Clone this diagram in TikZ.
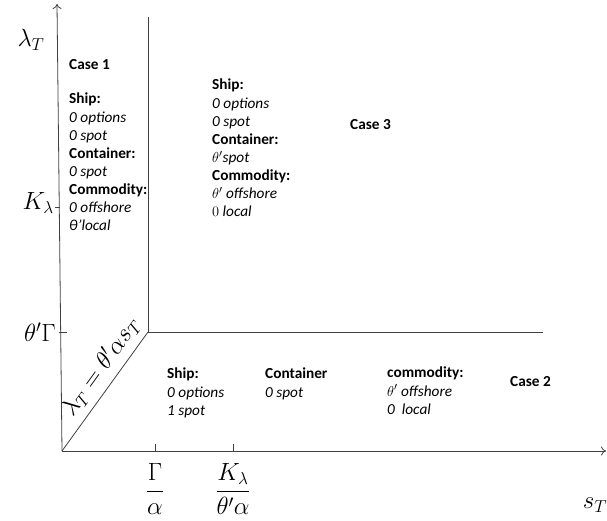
\documentclass[tikz,border=0pt]{standalone}
\usepackage{fontspec}
\setmainfont{Carlito}
\usetikzlibrary{arrows.meta}
\begin{document}
\begin{tikzpicture}[x=1pt,y=-1pt,
  axis/.style={draw=black!75, line width=0.8pt},
  tick/.style={draw=black!75, line width=0.8pt},
  blk/.style={anchor=north west, inner sep=0pt, align=left, font=\fontsize{15.3}{18.1}\selectfont},
  cs/.style={anchor=west, inner sep=0pt, font=\fontsize{15.3}{18.1}\selectfont\bfseries},
  mlab/.style={inner sep=0pt, font=\fontsize{24}{28}\selectfont}]
\useasboundingbox (0,0) rectangle (607,520);
% coordinates
\coordinate (O) at (62,451);
\coordinate (Ytop) at (57,4);
\coordinate (Xend) at (606,451);
\coordinate (C) at (148,332);
\coordinate (Vtop) at (148,17);
\coordinate (Hend) at (543,332);
% axes
\draw[axis, -{To[length=5pt,width=9pt]}] (O) -- (Ytop);
\draw[axis, -{To[length=5pt,width=9pt]}] (O) -- (Xend);
\draw[axis] (Vtop) -- (C) -- (Hend);
\draw[axis] (O) -- node[sloped, pos=0.62, above=6.5pt, inner sep=0pt, font=\fontsize{23.5}{28}\selectfont] (diag) {$\lambda_T=\theta'\alpha s_T$} (C);
% ticks
\coordinate (tK) at (59.6,207);
\coordinate (tG) at (60.8,332);
\draw[tick] (tK) -- ++(-5,0);
\draw[tick] (tG) ++(-2,0) -- ++(8,0);
\coordinate (tx1) at (155,451);
\coordinate (tx2) at (233,451);
\draw[tick] (tx1) -- ++(0,-7);
\draw[tick] (tx2) -- ++(0,-7);
% math labels
\node[mlab] (lam) at (31,40) {$\lambda_T$};
\node[mlab, anchor=east] (Kl) at (54,203) {$K_\lambda$};
\node[mlab, anchor=east] (tGl) at (56,332) {$\theta'\Gamma$};
\node[mlab] (ga) at (155,489) {$\displaystyle\frac{\Gamma}{\alpha}$};
\node[mlab] (ka) at (233,489) {$\displaystyle\frac{K_\lambda}{\theta'\alpha}$};
\node[mlab] (sT) at (595,505) {$s_T$};
% case 1
\node[cs] (c1) at (69,65) {Case 1};
\node[blk] (b1) at (69,93) {\textbf{Ship:}\\ \textit{0 options}\\ \textit{0 spot}\\ \textbf{Container:}\\ \textit{0 spot}\\ \textbf{Commodity:}\\ \textit{0 offshore}\\ \textit{θ'local}};
% case 3
\node[blk] (b3) at (212,79) {\textbf{Ship:}\\ \textit{0 options}\\ \textit{0 spot}\\ \textbf{Container:}\\ \textit{$\theta'$spot}\\ \textbf{Commodity:}\\ \textit{$\theta'$ offshore}\\ $0$ \textit{local}};
\node[cs] (c3) at (350,125) {Case 3};
% case 2
\node[blk] (b2a) at (167,368) {\textbf{Ship:}\\ \textit{0 options}\\ \textit{1 spot}};
\node[blk] (b2b) at (265,368) {\textbf{Container}\\ \textit{0 spot}};
\node[blk] (b2c) at (387,367) {\textbf{commodity:}\\ \textit{$\theta'$ offshore}\\ \textit{0\ \ local}};
\node[cs] (c2) at (510,382) {Case 2};
\end{tikzpicture}
\end{document}
